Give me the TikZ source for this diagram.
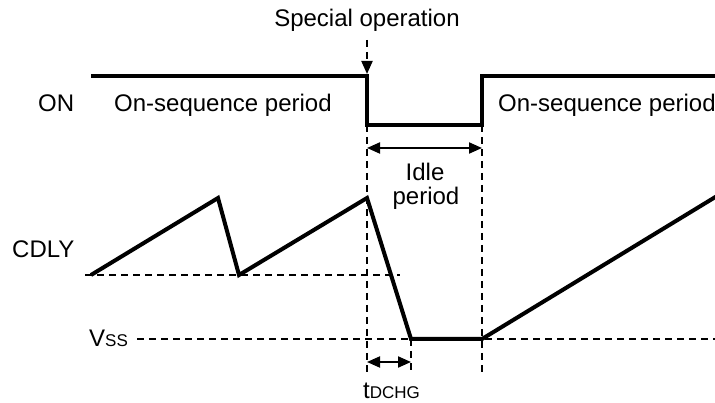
\documentclass[tikz,border=0pt]{standalone}
\usepackage{fontspec}
\setmainfont{Liberation Sans}
\usetikzlibrary{arrows.meta}
\begin{document}
\begin{tikzpicture}[x=1pt,y=-1pt,
  lbl/.style={font=\fontsize{24}{28}\selectfont, inner sep=0pt, anchor=base west},
  lblc/.style={font=\fontsize{24}{28}\selectfont, inner sep=0pt, anchor=base},
  wave/.style={line width=4pt, line join=miter},
  guide/.style={line width=2pt, dash pattern=on 7pt off 5pt},
  tip/.style={Triangle[length=13pt,width=11pt]},
  dim/.style={line width=2pt, {Triangle[length=13pt,width=11pt]}-{Triangle[length=13pt,width=11pt]}}
]
\useasboundingbox (0,0) rectangle (715,403);
% labels
\node[lblc] (spec) at (367,27) {Special operation};
\node[lbl] (on) at (38,112) {ON};
\node[lbl] (seq1) at (114,112) {On-sequence period};
\node[lbl] (seq2) at (498,112) {On-sequence period};
\node[lbl] (cdly) at (12,258) {CDLY};
\node[lbl] (vss) at (89,346) {V{\fontsize{17}{20}\selectfont SS}};
\node[lblc] (idle) at (425,181) {Idle};
\node[lblc] (per) at (426,205) {period};
\node[lbl] (tdchg) at (363,399) {t{\fontsize{17}{20}\selectfont DCHG}};
% coordinates
\coordinate (a0) at (91,76);
\coordinate (a1) at (367,76);
\coordinate (a2) at (367,125);
\coordinate (a3) at (482,125);
\coordinate (a4) at (482,76);
\coordinate (a5) at (717,76);
\coordinate (c0) at (91,275);
\coordinate (c1) at (218,198);
\coordinate (c2) at (239,275);
\coordinate (c3) at (367,198);
\coordinate (c4) at (411,339);
\coordinate (c5) at (482,339);
\coordinate (c6) at (717,196);
% guides
\draw[guide] (85,275) -- (400,275);
\draw[guide] (137,339) -- (715,339);
\draw[guide] (367,125) -- (367,373);
\draw[guide] (482,125) -- (482,373);
\draw[guide] (411,339) -- (411,373);
\coordinate (s0) at (367,40);
\coordinate (s1) at (367,74);
\draw[guide, -{Triangle[length=13pt,width=11pt]}] (s0) -- (s1);
% waveforms
\draw[wave] (a0) -- (a1) -- (a2) -- (a3) -- (a4) -- (a5);
\draw[wave] (c0) -- (c1) -- (c2) -- (c3) -- (c4) -- (c5) -- (c6);
% dimensions
\coordinate (i0) at (367,148);
\coordinate (i1) at (482,148);
\coordinate (t0) at (367,362);
\coordinate (t1) at (411,362);
\draw[dim] (i0) -- (i1);
\draw[dim] (t0) -- (t1);
\end{tikzpicture}
\end{document}
